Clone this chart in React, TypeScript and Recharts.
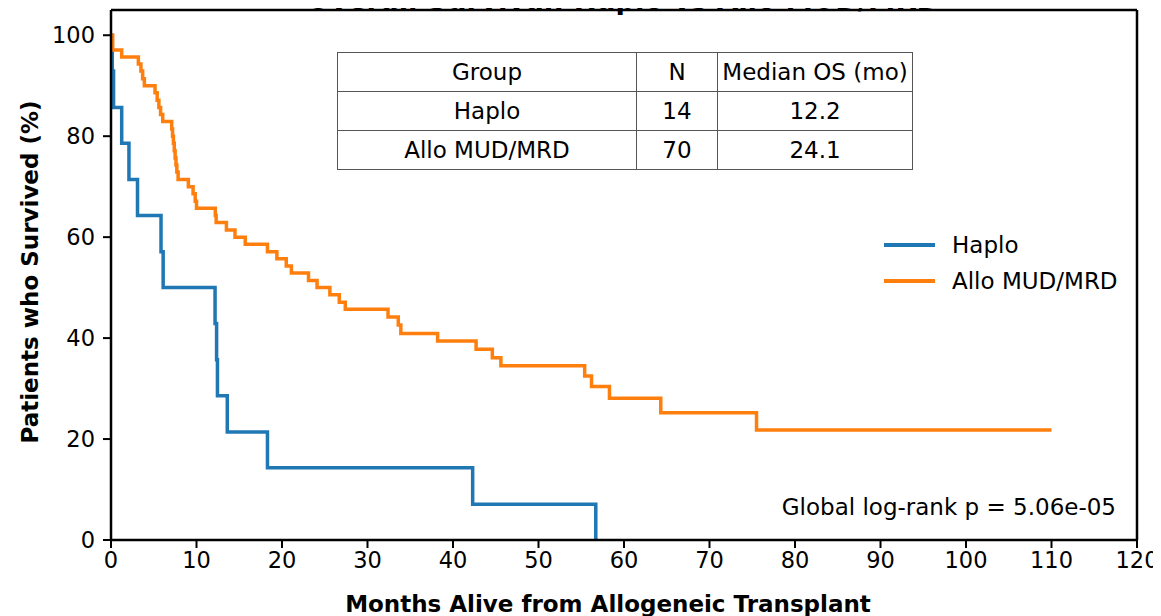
import { LineChart, Line, XAxis, YAxis, ReferenceLine } from 'recharts';

// Kaplan-Meier steps (months, % surviving)
const haploMonths = [0, 0.15, 0.3, 1.25, 2.1, 3.1, 5.85, 6.1, 12.17, 12.35, 12.45, 13.6, 18.3, 42.3, 56.7];
const haploSurvival = [100, 92.9, 85.7, 78.6, 71.4, 64.3, 57.1, 50, 42.9, 35.7, 28.6, 21.4, 14.3, 7.1, 0];

const alloMonths = [
  0, 0.2, 1.25, 3.2, 3.5, 3.7, 3.9, 5.15, 5.4, 5.6, 5.8, 6.05, 7.1, 7.2, 7.3, 7.4, 7.5, 7.6, 7.7, 7.85,
  9.05, 9.6, 9.85, 10.0, 12.2, 12.3, 13.5, 14.5, 15.7, 18.3, 19.4, 20.5, 21.1, 23.1, 24.1, 25.6, 26.7, 27.4,
  32.4, 33.6, 33.9, 38.2, 42.7, 44.6, 45.6, 55.4, 56.2, 58.3, 64.3, 75.5, 110,
];
const alloSurvival = [
  100, 97.1, 95.7, 94.3, 92.9, 91.4, 90.0, 88.6, 87.1, 85.7, 84.3, 82.9, 81.4, 80.0, 78.6, 77.1, 75.7, 74.3, 72.9, 71.4,
  70.0, 68.6, 67.1, 65.7, 64.3, 62.9, 61.4, 60.0, 58.6, 57.1, 55.7, 54.3, 52.9, 51.4, 50.0, 48.6, 47.1, 45.7,
  44.2, 42.6, 40.9, 39.4, 37.8, 36.1, 34.5, 32.5, 30.4, 28.1, 25.2, 21.8, 21.8,
];

const groupNames = ['Haplo', 'Allo MUD/MRD'];
const groupN = [14, 70];
const medianOS = ['12.2', '24.1'];
const colors = ['#1f77b4', '#ff7f0e'];

const xTicks = [0, 10, 20, 30, 40, 50, 60, 70, 80, 90, 100, 110, 120];
const yTicks = [0, 20, 40, 60, 80, 100];

const haploData = haploMonths.map((t, i) => ({ t, s: haploSurvival[i] }));
const alloData = alloMonths.map((t, i) => ({ t, s: alloSurvival[i] }));

const FONT = 'DejaVu Sans, sans-serif';
const tickStyle = { fill: '#000', fontSize: 22.5, fontFamily: FONT };

const cell: React.CSSProperties = {
  border: '1px solid #555',
  textAlign: 'center',
  padding: 0,
  height: 38,
};

export default function App() {
  return (
    <div style={{ position: 'relative', width: 1161, height: 616, margin: '-8px 0 0 -8px', background: '#fff' }}>
      <LineChart width={1161} height={616} margin={{ top: 10, right: 24, bottom: 46, left: 51 }}>
        <XAxis
          type="number"
          dataKey="t"
          domain={[0, 120]}
          ticks={xTicks}
          allowDataOverflow
          height={30}
          tick={tickStyle}
          tickSize={8}
          tickMargin={4}
          tickLine={{ stroke: '#000', strokeWidth: 2 }}
          axisLine={{ stroke: '#000', strokeWidth: 2.5 }}
        />
        <YAxis
          type="number"
          domain={[0, 105]}
          ticks={yTicks}
          allowDataOverflow
          width={60}
          tick={tickStyle}
          tickSize={8}
          tickMargin={8}
          tickLine={{ stroke: '#000', strokeWidth: 2 }}
          axisLine={{ stroke: '#000', strokeWidth: 2.5 }}
        />
        <ReferenceLine y={105} stroke="#000" strokeWidth={2.5} />
        <ReferenceLine x={120} stroke="#000" strokeWidth={2.5} />
        <Line
          data={haploData}
          dataKey="s"
          type="stepAfter"
          stroke={colors[0]}
          strokeWidth={3.5}
          dot={false}
          isAnimationActive={false}
        />
        <Line
          data={alloData}
          dataKey="s"
          type="stepAfter"
          stroke={colors[1]}
          strokeWidth={3.5}
          dot={false}
          isAnimationActive={false}
        />
      </LineChart>

      <svg
        width={1161}
        height={616}
        style={{ position: 'absolute', left: 0, top: 0, pointerEvents: 'none', fontFamily: FONT }}
      >
        <text x={623} y={9} textAnchor="middle" fontSize={27.5} fontWeight="bold">
          Overall Survival: Haplo vs Allo MUD/MRD
        </text>
        <text x={608} y={612} textAnchor="middle" fontSize={23} fontWeight="bold">
          Months Alive from Allogeneic Transplant
        </text>
        <text
          x={31}
          y={272}
          textAnchor="middle"
          dominantBaseline="middle"
          fontSize={23}
          fontWeight="bold"
          transform="rotate(-90 31 272)"
        >
          Patients who Survived (%)
        </text>
        <text x={1116} y={515} textAnchor="end" fontSize={23}>
          Global log-rank p = 5.06e-05
        </text>
        {groupNames.map((name, i) => (
          <g key={name}>
            <line x1={884} x2={935} y1={245 + i * 36} y2={245 + i * 36} stroke={colors[i]} strokeWidth={4} />
            <text x={952} y={245 + i * 36} dominantBaseline="central" fontSize={23}>
              {name}
            </text>
          </g>
        ))}
      </svg>

      <table
        style={{
          position: 'absolute',
          left: 337,
          top: 52,
          borderCollapse: 'collapse',
          fontFamily: FONT,
          fontSize: 23,
          background: '#fff',
        }}
      >
        <tbody>
          <tr>
            <td style={{ ...cell, width: 298 }}>Group</td>
            <td style={{ ...cell, width: 80 }}>N</td>
            <td style={{ ...cell, width: 194 }}>Median OS (mo)</td>
          </tr>
          {groupNames.map((name, i) => (
            <tr key={name}>
              <td style={cell}>{name}</td>
              <td style={cell}>{groupN[i]}</td>
              <td style={cell}>{medianOS[i]}</td>
            </tr>
          ))}
        </tbody>
      </table>
    </div>
  );
}
